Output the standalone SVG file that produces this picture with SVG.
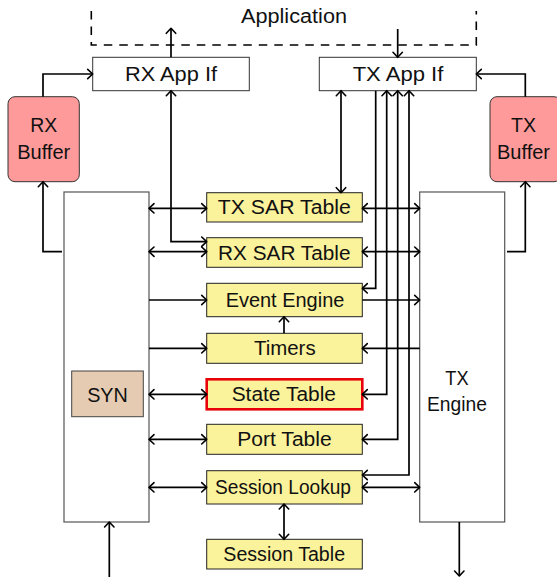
<svg xmlns="http://www.w3.org/2000/svg" width="557" height="577" viewBox="0 0 557 577">
<defs>
<marker id="ah" markerUnits="userSpaceOnUse" markerWidth="14" markerHeight="14" viewBox="-7 -7 14 14" refX="0" refY="0" orient="auto-start-reverse">
<path d="M-5,-4.7 L0,0 L-5,4.7" fill="none" stroke="#000" stroke-width="1.6" stroke-linecap="round" stroke-linejoin="round"/>
</marker>
<style>
text{font-family:"Liberation Sans",Arial,sans-serif;font-size:20px;fill:#111;text-anchor:middle}
.tbl{fill:#fbf29c;stroke:#222;stroke-width:1}
.eng{fill:#fff;stroke:#555;stroke-width:1.2}
.ifc{fill:#fff;stroke:#333;stroke-width:1}
.buf{fill:#ff9a9a;stroke:#333;stroke-width:1}
#conn path{fill:none;stroke:#000;stroke-width:1.7}
.a{marker-end:url(#ah)}
.b{marker-start:url(#ah);marker-end:url(#ah)}
</style>
</defs>
<rect width="557" height="577" fill="#fff"/>
<g id="application">
<path d="M91.3,11 V45 H476.3 V11" fill="none" stroke="#000" stroke-width="1.6" stroke-dasharray="8.5 7"/>
<text x="294" y="22.5" textLength="106" lengthAdjust="spacingAndGlyphs">Application</text>
</g>
<g id="rx-app-if">
<rect class="ifc" x="92.7" y="57.3" width="156.6" height="33.4"/>
<text x="171" y="80.7" textLength="92" lengthAdjust="spacingAndGlyphs">RX App If</text>
</g>
<g id="tx-app-if">
<rect class="ifc" x="319.3" y="57.3" width="157" height="33.4"/>
<text x="398" y="80.7" textLength="90.7" lengthAdjust="spacingAndGlyphs">TX App If</text>
</g>
<g id="rx-buffer">
<rect class="buf" x="8" y="96.7" width="71.3" height="85" rx="7"/>
<text x="43.7" y="132.3" textLength="27" lengthAdjust="spacingAndGlyphs">RX</text>
<text x="43.7" y="159.3" textLength="53" lengthAdjust="spacingAndGlyphs">Buffer</text>
</g>
<g id="tx-buffer">
<rect class="buf" x="490" y="96.7" width="71" height="85" rx="7"/>
<text x="523.5" y="132.3" textLength="25" lengthAdjust="spacingAndGlyphs">TX</text>
<text x="523.5" y="159.3" textLength="53" lengthAdjust="spacingAndGlyphs">Buffer</text>
</g>
<g id="rx-engine">
<rect class="eng" x="64" y="192" width="85" height="330"/>
</g>
<g id="syn">
<rect x="71.7" y="371" width="71.6" height="45.7" fill="#e5cbb1" stroke="#444" stroke-width="1"/>
<text x="107.5" y="402.3" textLength="40.7" lengthAdjust="spacingAndGlyphs">SYN</text>
</g>
<g id="tx-engine">
<rect class="eng" x="419.7" y="192" width="85" height="330"/>
<text x="457" y="385" textLength="23.3" lengthAdjust="spacingAndGlyphs">TX</text>
<text x="457" y="410.5" textLength="60" lengthAdjust="spacingAndGlyphs">Engine</text>
</g>
<g id="tx-sar-table">
<rect class="tbl" x="206.7" y="192.7" width="155.6" height="29.3"/>
<text x="284.3" y="214.3" textLength="133" lengthAdjust="spacingAndGlyphs">TX SAR Table</text>
</g>
<g id="rx-sar-table">
<rect class="tbl" x="206.7" y="237.7" width="155.6" height="29.6"/>
<text x="284.3" y="259.5" textLength="132.4" lengthAdjust="spacingAndGlyphs">RX SAR Table</text>
</g>
<g id="event-engine">
<rect class="tbl" x="206.7" y="283.3" width="155.6" height="33.4"/>
<text x="285" y="307" textLength="118.7" lengthAdjust="spacingAndGlyphs">Event Engine</text>
</g>
<g id="timers">
<rect class="tbl" x="206.7" y="333.3" width="155.6" height="30"/>
<text x="284.8" y="355.3" textLength="61.7" lengthAdjust="spacingAndGlyphs">Timers</text>
</g>
<g id="state-table">
<rect x="206.7" y="379.3" width="155.6" height="30" fill="#fbf29c" stroke="#e8000b" stroke-width="2.6"/>
<text x="283.8" y="401.3" textLength="104.3" lengthAdjust="spacingAndGlyphs">State Table</text>
</g>
<g id="port-table">
<rect class="tbl" x="206.7" y="424.3" width="155.6" height="30"/>
<text x="284.5" y="446.3" textLength="94.3" lengthAdjust="spacingAndGlyphs">Port Table</text>
</g>
<g id="session-lookup">
<rect class="tbl" x="206.7" y="470.7" width="155.6" height="33.3"/>
<text x="283" y="494.3" textLength="136" lengthAdjust="spacingAndGlyphs">Session Lookup</text>
</g>
<g id="session-table">
<rect class="tbl" x="206.7" y="539.3" width="155.6" height="29.7"/>
<text x="284.2" y="561.3" textLength="121.7" lengthAdjust="spacingAndGlyphs">Session Table</text>
</g>
<g id="conn">
<path class="a" d="M171,57.3 V28.3"/>
<path class="a" d="M397.7,29 V57.3"/>
<path class="a" d="M62,251.7 H43 V181.7"/>
<path class="a" d="M43,96.7 V74 H92.7"/>
<path class="a" d="M525.3,96.7 V74 H476.3"/>
<path class="a" d="M507,251.7 H525.3 V181.7"/>
<path class="a" d="M109.3,577 V522"/>
<path class="a" d="M459.3,522 V576"/>
<path class="b" d="M171,90.7 V241.7 H206.7"/>
<path class="b" d="M341,90.7 V192.7"/>
<path class="a" d="M375.7,90.7 V288.3 H362.3"/>
<path class="b" d="M386.7,90.7 V394.3 H362.3"/>
<path class="b" d="M397.7,90.7 V439.3 H362.3"/>
<path class="b" d="M409,90.7 V475 H362.3"/>
<path class="b" d="M149,208.3 H206.7"/>
<path class="b" d="M149,251.7 H206.7"/>
<path class="a" d="M149,300 H206.7"/>
<path class="a" d="M149,348.3 H206.7"/>
<path class="b" d="M149,394.3 H206.7"/>
<path class="b" d="M149,439.3 H206.7"/>
<path class="b" d="M149,487.3 H206.7"/>
<path class="b" d="M362.3,208.3 H419.7"/>
<path class="b" d="M362.3,251.7 H419.7"/>
<path class="a" d="M362.3,300 H419.7"/>
<path class="a" d="M419.7,348.3 H362.3"/>
<path class="b" d="M362.3,487.3 H419.7"/>
<path class="a" d="M284,333.3 V316.7"/>
<path class="b" d="M284,504 V539.3"/>
</g>
</svg>
